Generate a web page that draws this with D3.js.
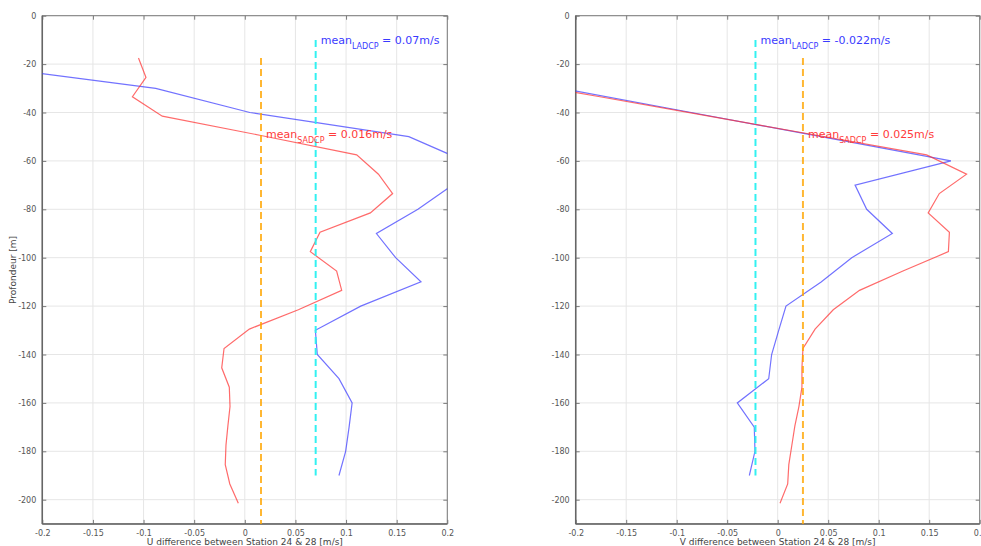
<!DOCTYPE html>
<html><head><meta charset="utf-8">
<script src="https://cdn.jsdelivr.net/npm/d3@7"></script>
<style>body{margin:0;background:#fff;}svg{display:block;font-family:"DejaVu Sans",sans-serif;}</style>
</head><body>
<svg id="c" width="981" height="546"></svg>
<script>
// ---- data ----
const depthLADCP = [-10,-20,-30,-40,-50,-60,-70,-80,-90,-100,-110,-120,-130,-140,-150,-160,-170,-180,-190];
const depthSADCP = [-17.5,-25.5,-33.5,-41.5,-49.5,-57.5,-65.5,-73.5,-81.5,-89.5,-97.5,-105.5,-113.5,-121.5,-129.5,-137.5,-145.5,-153.5,-161.5,-169.5,-177.5,-185.5,-193.5,-201.5];
const uLADCP = [-0.35,-0.272,-0.088,0.005,0.162,0.217,0.205,0.171,0.130,0.149,0.174,0.1145,0.0697,0.0716,0.093,0.106,0.103,0.0996,0.093];
const uSADCP = [-0.105,-0.0976,-0.111,-0.0815,0.016,0.1105,0.132,0.146,0.124,0.0743,0.0647,0.0907,0.0957,0.0529,0.0045,-0.0205,-0.0228,-0.0153,-0.0146,-0.0167,-0.0186,-0.0193,-0.0148,-0.0064];
const vLADCP = [-0.45,-0.34,-0.214,-0.0856,0.043,0.1715,0.0766,0.0881,0.1135,0.0733,0.043,0.0082,0.001,-0.006,-0.0089,-0.040,-0.0232,-0.0225,-0.0281];
const vSADCP = [-0.39,-0.284,-0.176,-0.068,0.040,0.1475,0.187,0.160,0.149,0.170,0.169,0.124,0.081,0.055,0.037,0.025,0.024,0.024,0.021,0.017,0.014,0.011,0.0099,0.0023];
const meanU = {LADCP: 0.07, SADCP: 0.016};
const meanV = {LADCP: -0.022, SADCP: 0.025};
const meanLabelsU = {LADCP: "0.07m/s", SADCP: "0.016m/s"};
const meanLabelsV = {LADCP: "-0.022m/s", SADCP: "0.025m/s"};
const xTicks = [-0.2,-0.15,-0.1,-0.05,0,0.05,0.1,0.15,0.2];
const xTickLabels = ["-0.2","-0.15","-0.1","-0.05","0","0.05","0.1","0.15","0.2"];
const yTicks = [0,-20,-40,-60,-80,-100,-120,-140,-160,-180,-200];
const yTickLabels = ["0","-20","-40","-60","-80","-100","-120","-140","-160","-180","-200"];
const xLabels = ["U difference between Station 24 & 28 [m/s]","V difference between Station 24 & 28 [m/s]"];
const yLabel = "Profondeur [m]";

const svg = d3.select("#c");
const pTop = 15.7, pBottom = 523.9;
const y = d3.scaleLinear().domain([0,-210]).range([pTop,pBottom]);

function panel(idx, x0, x1, lad, sad, means, labels){
  const x = d3.scaleLinear().domain([-0.2,0.2]).range([x0,x1]);
  const g = svg.append("g");
  const cid = "clip"+idx;
  svg.append("clipPath").attr("id",cid).append("rect")
    .attr("x",x0).attr("y",pTop).attr("width",x1-x0).attr("height",pBottom-pTop);
  g.append("g").selectAll("line").data(xTicks).join("line")
    .attr("x1",d=>x(d)).attr("x2",d=>x(d)).attr("y1",pTop).attr("y2",pBottom)
    .attr("stroke","#e6e6e6").attr("stroke-width",1);
  g.append("g").selectAll("line").data(yTicks).join("line")
    .attr("y1",d=>y(d)).attr("y2",d=>y(d)).attr("x1",x0).attr("x2",x1)
    .attr("stroke","#e6e6e6").attr("stroke-width",1);
  const ax = (gen, tr) => {
    const a = g.append("g").attr("transform",tr).call(gen);
    a.select(".domain").remove();
    a.selectAll(".tick line").attr("stroke","#7a7a7a");
    a.selectAll("text").attr("fill","#555").style("font-size","8px").style("font-family","DejaVu Sans, sans-serif");
    return a;
  };
  ax(d3.axisBottom(x).tickValues(xTicks).tickSize(-4).tickPadding(6).tickFormat((d,i)=>xTickLabels[i]), `translate(0,${pBottom})`);
  ax(d3.axisTop(x).tickValues(xTicks).tickSize(-4).tickFormat(""), `translate(0,${pTop})`);
  ax(d3.axisLeft(y).tickValues(yTicks).tickSize(-4).tickPadding(6).tickFormat((d,i)=>yTickLabels[i]), `translate(${x0},0)`);
  ax(d3.axisRight(y).tickValues(yTicks).tickSize(-4).tickFormat(""), `translate(${x1},0)`);
  g.append("rect").attr("x",x0).attr("y",pTop).attr("width",x1-x0).attr("height",pBottom-pTop)
    .attr("fill","none").attr("stroke","#7a7a7a").attr("stroke-width",1);
  g.append("line").attr("x1",x0).attr("x2",x0).attr("y1",pTop).attr("y2",pBottom).attr("stroke","#666").attr("stroke-width",1.5);
  g.append("line").attr("x1",x0).attr("x2",x1).attr("y1",pBottom).attr("y2",pBottom).attr("stroke","#666").attr("stroke-width",1.5);

  const pl = g.append("g").attr("clip-path",`url(#${cid})`);
  const line = d3.line().x(d=>x(d[0])).y(d=>y(d[1]));
  pl.append("path").datum(lad.map((v,i)=>[v,depthLADCP[i]])).attr("d",line)
    .attr("fill","none").attr("stroke","rgba(60,60,255,0.72)").attr("stroke-width",1.2);
  pl.append("path").datum(sad.map((v,i)=>[v,depthSADCP[i]])).attr("d",line)
    .attr("fill","none").attr("stroke","rgba(255,50,50,0.72)").attr("stroke-width",1.2);
  pl.append("line").attr("x1",x(means.SADCP)).attr("x2",x(means.SADCP))
    .attr("y1",y(depthSADCP[0])).attr("y2",y(-212))
    .attr("stroke","rgba(255,165,0,0.8)").attr("stroke-width",2).attr("stroke-dasharray","7,4");
  pl.append("line").attr("x1",x(means.LADCP)).attr("x2",x(means.LADCP))
    .attr("y1",y(depthLADCP[0])).attr("y2",y(depthLADCP[depthLADCP.length-1]))
    .attr("stroke","rgba(40,240,240,0.95)").attr("stroke-width",2).attr("stroke-dasharray","7,4");
  const ann = (xv, yv, sub, val, col) => {
    const t = g.append("text").attr("x",x(xv)+5).attr("y",yv).attr("fill",col)
      .style("font-size","11px");
    t.append("tspan").text("mean");
    t.append("tspan").attr("dy",5).style("font-size","8px").text(sub);
    t.append("tspan").attr("dy",-5).text(" = "+val);
  };
  ann(means.LADCP, 43.5, "LADCP", labels.LADCP, "#3a3aff");
  ann(means.SADCP, 137.5, "SADCP", labels.SADCP, "#ff3a3a");
  g.append("text").attr("x",(x0+x1)/2).attr("y",545).attr("text-anchor","middle")
    .attr("fill","#444").style("font-size","9px").text(xLabels[idx]);
}
panel(0, 42.3, 447.3, uLADCP, uSADCP, meanU, meanLabelsU);
panel(1, 575.7, 979.7, vLADCP, vSADCP, meanV, meanLabelsV);
svg.append("text").attr("transform","translate(16,270) rotate(-90)").attr("text-anchor","middle")
  .attr("fill","#444").style("font-size","9px").text(yLabel);
</script>
</body></html>
